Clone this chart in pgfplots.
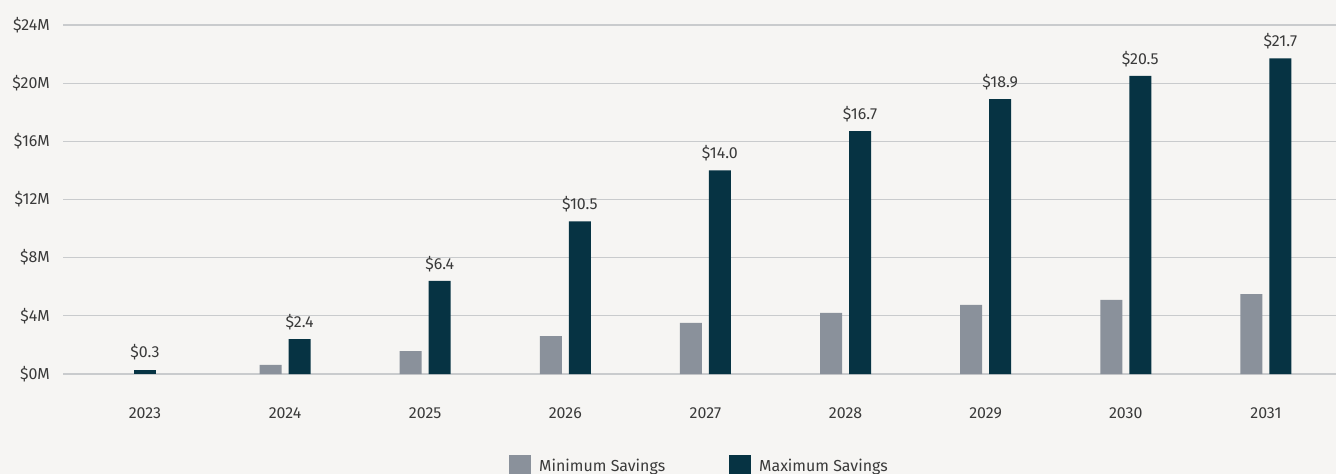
\documentclass[border=0pt]{standalone}
\usepackage{pgfplots}
\pgfplotsset{compat=1.18}
\usepackage{fontspec}
\setmainfont{Fira Sans}
\definecolor{bg}{HTML}{F6F5F3}
\definecolor{minc}{HTML}{8A919B}
\definecolor{maxc}{HTML}{063343}
\definecolor{txt}{HTML}{3A3A3A}
\definecolor{gridc}{HTML}{C9CBCD}
\begin{document}
\begin{tikzpicture}
\fill[bg] (0,0) rectangle (1336bp,474bp);
\begin{axis}[
  at={(63bp,100bp)}, anchor=south west,
  scale only axis, width=1273bp, height=349bp,
  xmin=-0.585, xmax=8.5, ymin=0, ymax=24,
  ybar, bar width=22bp,
  clip=false,
  /pgf/number format/assume math mode=true,
  axis line style={draw=none},
  tick style={draw=none},
  ymajorgrids, grid style={gridc, line width=1.2bp},
  xtick={0,...,8},
  xticklabels={2023,2024,2025,2026,2027,2028,2029,2030,2031},
  ytick={0,4,...,24},
  yticklabels={\$0M,\$4M,\$8M,\$12M,\$16M,\$20M,\$24M},
  tick label style={font=\fontsize{16}{19}\selectfont, text=txt},
  yticklabel style={anchor=east, inner sep=0pt, xshift=-13bp},
  xticklabel style={anchor=north, inner sep=0pt, yshift=-29bp},
  legend style={at={(0.5,-0.264)}, anchor=center, draw=none, fill=none,
    legend columns=2, font=\fontsize{16}{19}\selectfont, text=txt,
    /tikz/every odd column/.append style={column sep=6bp},
    /tikz/every even column/.append style={column sep=62bp}},
  legend image code/.code={\fill[#1] (0bp,-11bp) rectangle (22bp,11bp);},
  nodes near coords style={font=\fontsize{16}{19}\selectfont, text=txt, inner sep=0pt, anchor=south, yshift=9bp},
]
\addplot[fill=minc, draw=none, bar shift=-14.5bp] coordinates {
  (1,0.62) (2,1.58) (3,2.61) (4,3.51) (5,4.2) (6,4.75) (7,5.09) (8,5.5)};
\addlegendentry{Minimum Savings}
\addplot[fill=maxc, draw=none, bar shift=14.5bp,
  nodes near coords={\$\pgfmathprintnumber[fixed,fixed zerofill,precision=1]{\pgfplotspointmeta}}]
  coordinates {(1,2.4) (2,6.4) (3,10.5) (4,14.0) (5,16.7) (6,18.9) (7,20.5) (8,21.7)};
\addlegendentry{Maximum Savings}
\addplot[fill=maxc, draw=none, bar shift=0bp, forget plot,
  nodes near coords={\$\pgfmathprintnumber[fixed,fixed zerofill,precision=1]{\pgfplotspointmeta}}]
  coordinates {(0,0.3)};
\end{axis}
\pgfresetboundingbox
\path[use as bounding box] (0,0) rectangle (1336bp,474bp);
\end{tikzpicture}
\end{document}
